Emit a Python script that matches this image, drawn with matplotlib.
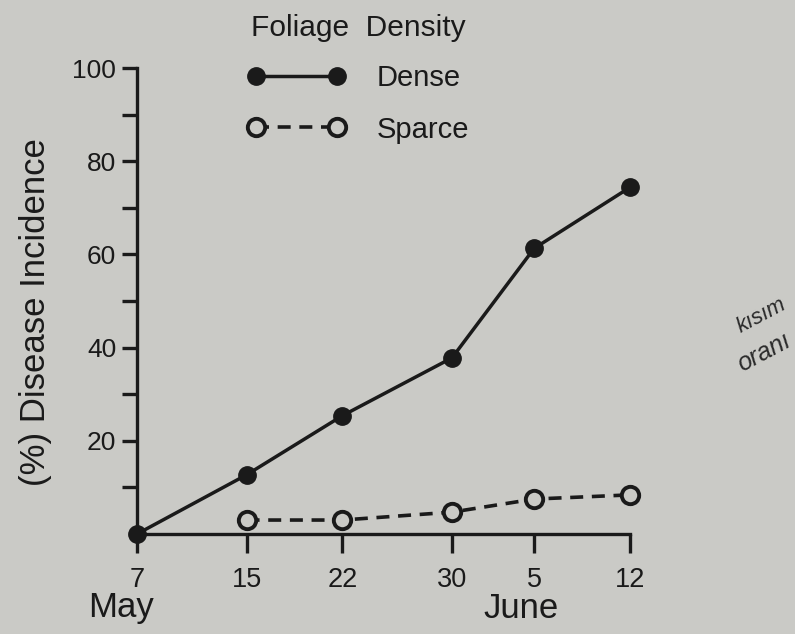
import numpy as np
import matplotlib
matplotlib.use("Agg")
import matplotlib.pyplot as plt

plt.rcParams['font.family'] = ['Liberation Sans', 'DejaVu Sans']

# dados (dias contados a partir de 7 de maio)
dias = [0, 8, 15, 23, 29, 36]
rotulos_x = ['7', '15', '22', '30', '5', '12']
dias_sparce = [8, 15, 23, 29, 36]
densa = [0, 12.7, 25.4, 37.8, 61.3, 74.4]
esparsa = [3.0, 3.0, 4.7, 7.5, 8.4]
ticks_y = [20, 40, 60, 80, 100]
ticks_y_menor = [10, 30, 50, 70, 90]

papel = '#cacac6'
tinta = '#1a1a1a'

fig = plt.figure(figsize=(7.95, 6.34), dpi=100, facecolor=papel)
ax = fig.add_axes([0.1723, 0.1577, 0.6202, 0.735])
ax.set_facecolor(papel)

ax.plot(dias, densa, color=tinta, linewidth=2.5, marker='o', markersize=12.5,
        markerfacecolor=tinta, markeredgecolor=tinta, label='Dense', clip_on=False, zorder=3)
ax.plot(dias_sparce, esparsa, color=tinta, linewidth=2.6, dashes=(3.6, 2.4),
        marker='o', markersize=12.5, markerfacecolor=papel, markeredgecolor=tinta,
        markeredgewidth=2.8, label='Sparce', clip_on=False, zorder=3)

ax.set_xlim(0, 36)
ax.set_ylim(0, 100)

for lado in ['top', 'right']:
    ax.spines[lado].set_visible(False)
for lado in ['left', 'bottom']:
    ax.spines[lado].set_linewidth(2.4)
    ax.spines[lado].set_color(tinta)

ax.set_xticks(dias)
ax.set_xticklabels(rotulos_x)
ax.set_yticks(ticks_y)
ax.set_yticks(ticks_y_menor, minor=True)
ax.tick_params(axis='x', direction='out', length=14, width=2.4, color=tinta,
               labelsize=19.5, labelcolor=tinta, pad=10)
ax.tick_params(axis='y', which='both', direction='out', length=11, width=2.4,
               color=tinta, labelsize=19, labelcolor=tinta, pad=4)

# meses embaixo
fig.text(121 / 795, 1 - 608 / 634, 'May', ha='center', va='center', fontsize=25, color=tinta)
fig.text(521 / 795, 1 - 608 / 634, 'June', ha='center', va='center', fontsize=25, color=tinta)

fig.text(36 / 795, 1 - 312 / 634, '(%) Disease Incidence', rotation=90,
         ha='center', va='center', fontsize=25, color=tinta)

leg = ax.legend(loc='upper left', bbox_to_anchor=(247 / 795, 1 - 14 / 634),
                bbox_transform=fig.transFigure, frameon=False, numpoints=2,
                handlelength=3.4, handletextpad=1.05, labelspacing=0.8,
                borderpad=0, borderaxespad=0, fontsize=21,
                title='Foliage  Density', title_fontsize=21.5)
for t in leg.get_texts():
    t.set_color(tinta)
leg.get_title().set_color(tinta)
leg._legend_box.sep = 16

# anotacao a mao na margem
fig.text(733 / 795, 1 - 316 / 634, 'kısım', rotation=28, fontsize=16,
         style='italic', color='#2a2a2a', ha='left', va='center')
fig.text(733 / 795, 1 - 352 / 634, 'oranı', rotation=28, fontsize=18,
         style='italic', color='#2a2a2a', ha='left', va='center')

fig.savefig('out.png', dpi=100, facecolor=papel)
